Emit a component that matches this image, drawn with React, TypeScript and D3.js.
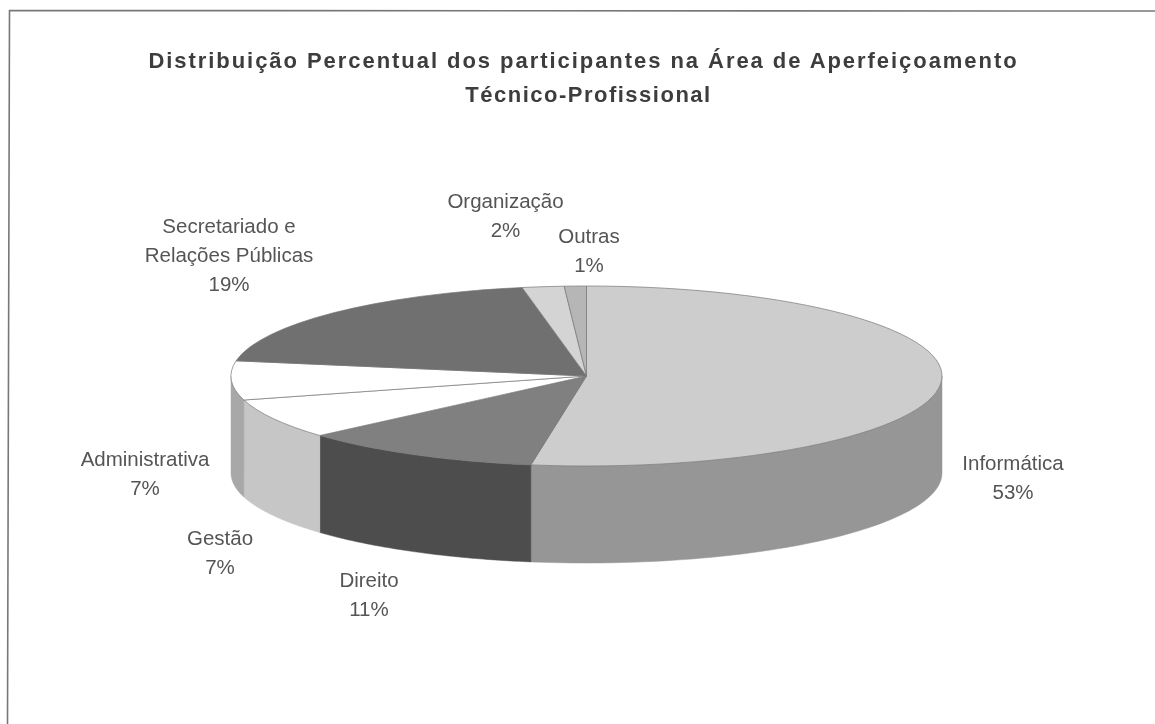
import React from "react";
import * as d3 from "d3";

const categories = ["Informática", "Direito", "Gestão", "Administrativa", "Secretariado e Relações Públicas", "Organização", "Outras"];
const shares = [52.5, 11, 7.2, 7, 19.4, 1.9, 1];
const labelTexts = ["53%", "11%", "7%", "7%", "19%", "2%", "1%"];
const labelLines = [["Informática"], ["Direito"], ["Gestão"], ["Administrativa"], ["Secretariado e", "Relações Públicas"], ["Organização"], ["Outras"]];
const titleLines = ["Distribuição Percentual dos participantes na Área de Aperfeiçoamento", "Técnico-Profissional"];

const W = 1155, H = 724;
const cx = 586.5, cy = 376, rx = 355.5, ry = 90, depth = 97;
const topColors = ["#cdcdcd", "#808080", "#ffffff", "#ffffff", "#6f6f6f", "#d4d4d4", "#b6b6b6"];
const sideColors = ["#969696", "#4e4e4e", "#c6c6c6", "#a8a8a8", "#555555", "#aaaaaa", "#888888"];
const labelAnchors = [[1013, 470], [369, 587], [220, 545], [145, 466], [229, 233], [505.5, 208], [589, 243]];
const titleLayout = [{ x: 583.5, y: 68, spacing: 1.95 }, { x: 588.5, y: 102, spacing: 1.5 }];

export default function App() {
  const pie = d3.pie<number>().sort(null).value((d) => d);
  const arcs = pie(shares);
  const arc = d3.arc<d3.PieArcDatum<number>>().innerRadius(0).outerRadius(rx);
  const px = (a: number) => cx + rx * Math.sin(a);
  const py = (a: number) => cy - ry * Math.cos(a);
  const sidePath = (a0: number, a1: number) => {
    const s = Math.max(a0, Math.PI / 2), e = Math.min(a1, 1.5 * Math.PI);
    if (e <= s) return null;
    const steps = d3.range(0, 61).map((i) => s + ((e - s) * i) / 60);
    const line = d3.line<[number, number]>();
    const top = steps.map((a) => [px(a), py(a)] as [number, number]);
    const bot = steps.slice().reverse().map((a) => [px(a), py(a) + depth] as [number, number]);
    return line([...top, ...bot]) + "Z";
  };
  return (
    <svg width={W} height={H} viewBox={`0 0 ${W} ${H}`} style={{ position: "absolute", left: 0, top: 0, background: "#fff" }}
      fontFamily="'Liberation Sans', Arial, sans-serif">
      <defs>
        <filter id="scan" x="-2%" y="-2%" width="104%" height="104%"><feGaussianBlur stdDeviation="0.6" /></filter>
      </defs>
      <g filter="url(#scan)">
        <path d={`M7.5 724L9.5 10.5L${W} 11`} fill="none" stroke="#777" strokeWidth={1.6} />
        {titleLines.map((t, i) => (
          <text key={t} x={titleLayout[i].x} y={titleLayout[i].y} textAnchor="middle" fontSize={22} fontWeight={700} fill="#3c3c3c" letterSpacing={titleLayout[i].spacing}>{t}</text>
        ))}
        {arcs.map((d, i) => {
          const p = sidePath(d.startAngle, d.endAngle);
          return p ? <path key={categories[i]} d={p} fill={sideColors[i]} stroke={sideColors[i]} strokeWidth={0.5} /> : null;
        })}
        <g transform={`translate(${cx},${cy}) scale(1,${ry / rx})`}>
          {arcs.map((d, i) => (
            <path key={categories[i]} d={arc(d) as string} fill={topColors[i]} stroke="#777" strokeWidth={0.7} vectorEffect="non-scaling-stroke" />
          ))}
        </g>
        {categories.map((c, i) => {
          const [x, y] = labelAnchors[i];
          const lines = [...labelLines[i], labelTexts[i]];
          return (
            <text key={c} textAnchor="middle" fontSize={20.5} fill="#555">
              {lines.map((l, j) => <tspan key={j} x={x} y={y + j * 29}>{l}</tspan>)}
            </text>
          );
        })}
      </g>
    </svg>
  );
}
